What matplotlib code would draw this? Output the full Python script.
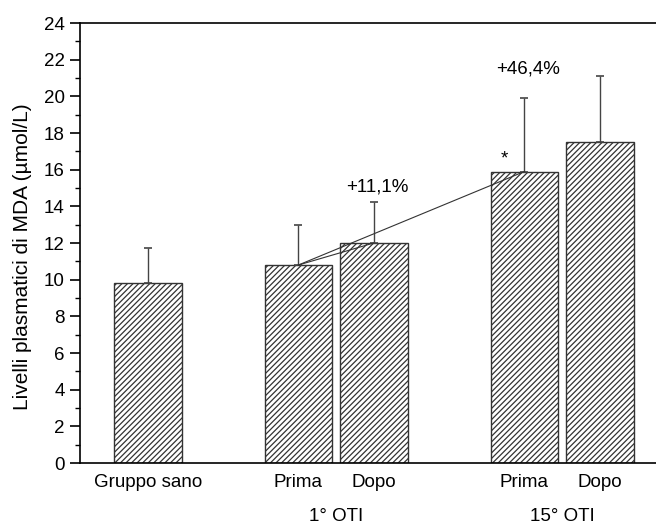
import numpy as np
import matplotlib.pyplot as plt
from matplotlib.ticker import MultipleLocator

plt.rcParams['font.family'] = ['Liberation Sans', 'DejaVu Sans']
plt.rcParams['hatch.linewidth'] = 0.9

# Data
groups = ['Gruppo sano', 'Prima', 'Dopo', 'Prima', 'Dopo']
positions = [0, 2, 3, 5, 6]
means = [9.8, 10.8, 12.0, 15.9, 17.5]
sd_up = [1.95, 2.2, 2.25, 4.0, 3.6]
sessions = ['1° OTI', '15° OTI']
changes = ['+11,1%', '+46,4%']

fs = 13.5

fig = plt.figure(figsize=(6.56, 5.24), dpi=100)
ax = fig.add_axes([80 / 656, 61 / 524, 580 / 656, 440 / 524])

ax.bar(positions, means, width=0.9, color='white', edgecolor='#333333',
       hatch='//////', linewidth=1.0, zorder=2)
ax.errorbar(positions, means, yerr=[np.zeros(len(means)), sd_up], fmt='none',
            ecolor='#444444', elinewidth=1.0, capsize=3, capthick=1.2, zorder=3)

# Lines from the first "Prima" to the next two bars
ax.plot([positions[1], positions[2]], [means[1], means[2]], color='#333333', lw=0.8, zorder=4)
ax.plot([positions[1], positions[3]], [means[1], means[3]], color='#333333', lw=0.8, zorder=4)

ax.text(3.05, 15.05, changes[0], ha='center', va='center', fontsize=fs)
ax.text(5.05, 21.5, changes[1], ha='center', va='center', fontsize=fs)
ax.text(4.73, 16.6, '*', ha='center', va='center', fontsize=fs)

ax.set_xlim(-0.9, 6.8)
ax.set_ylim(0, 24)
ax.yaxis.set_major_locator(MultipleLocator(2))
ax.yaxis.set_minor_locator(MultipleLocator(1))
ax.tick_params(axis='y', which='major', length=7, width=1.2, labelsize=fs, pad=4)
ax.tick_params(axis='y', which='minor', length=3.5, width=1)
ax.set_xticks(positions)
ax.set_xticklabels(groups, fontsize=fs)
ax.tick_params(axis='x', length=0, pad=8)

for i, s in enumerate(sessions):
    ax.text((positions[1 + 2 * i] + positions[2 + 2 * i]) / 2, -2.9, s,
            ha='center', va='center', fontsize=fs)

ax.set_ylabel('Livelli plasmatici di MDA (µmol/L)', fontsize=15)
ax.yaxis.set_label_coords(-48 / 580, 0.468)

for sp in ['left', 'top', 'bottom']:
    ax.spines[sp].set_linewidth(1.2)
ax.spines['right'].set_visible(False)

fig.savefig('out.png', dpi=100)
